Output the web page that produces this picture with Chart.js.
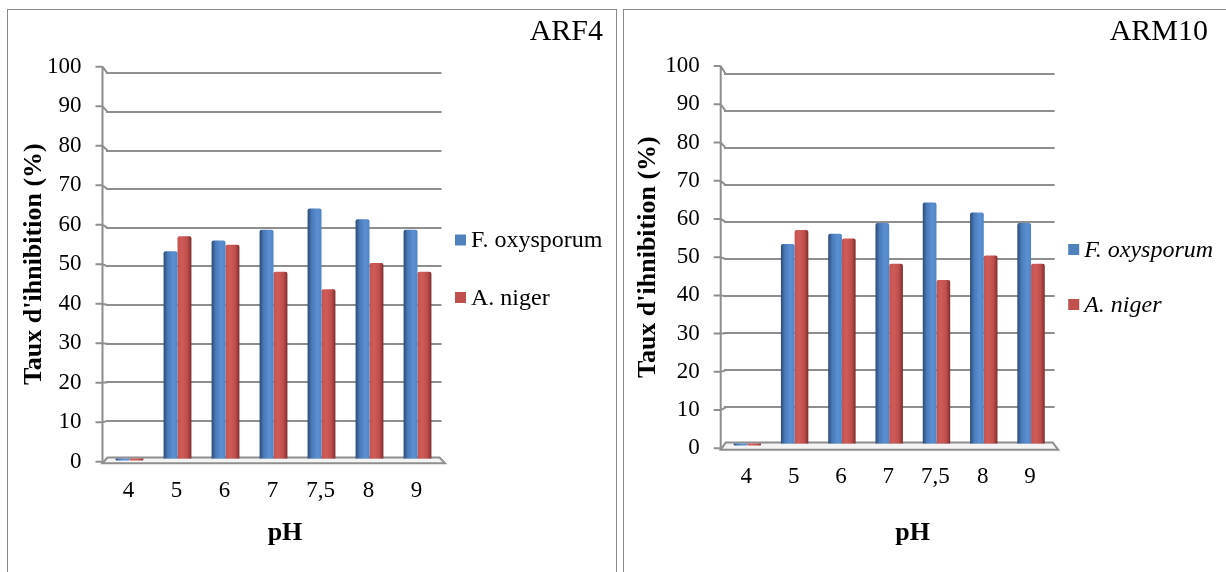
<!DOCTYPE html>
<html>
<head>
<meta charset="utf-8">
<script src="https://cdn.jsdelivr.net/npm/chart.js@4.4.1/dist/chart.umd.min.js"></script>
<style>
  html, body { margin: 0; padding: 0; background: #fff; }
  body { width: 1226px; height: 572px; overflow: hidden; position: relative; }
  .panel { position: absolute; top: 9px; height: 620px; border: 1px solid #8a8a8a; }
  canvas { position: absolute; top: 10px; }
</style>
</head>
<body>
<div class="panel" style="left:7px; width:608px;"></div>
<div class="panel" style="left:623px; width:640px;"></div>
<canvas id="chartARF4" width="608" height="562" style="left:8px"></canvas>
<canvas id="chartARM10" width="602" height="562" style="left:624px"></canvas>
<script>
const phLabels = ['4', '5', '6', '7', '7,5', '8', '9'];
const yTicks = [0, 10, 20, 30, 40, 50, 60, 70, 80, 90, 100];
const seriesNames = ['F. oxysporum', 'A. niger'];

// ARF4 (left panel)
const arf4Foxy = [0, 53.9, 56.7, 59.5, 65.0, 62.2, 59.5];
const arf4Aniger = [0, 57.8, 55.6, 48.6, 44.1, 50.9, 48.6];

// ARM10 (right panel)
const arm10Foxy = [0, 54.1, 56.9, 59.8, 65.3, 62.6, 59.8];
const arm10Aniger = [0, 57.9, 55.6, 48.8, 44.4, 51.0, 48.8];

const SERIF = "'Liberation Serif', 'Times New Roman', serif";
const GRID = '#8e8e8e';
const CAT_PCT = 0.58;
const flat = ['#4f81bd', '#c0504d'];
const shades = [
  ['#2b4a72', '#4a7bbb', '#5b90d3', '#4f84c4'],
  ['#c4514e', '#d05c59', '#bf4f4c', '#7e2e2c']
];

// cylinder-ish shading for each bar, computed from the x scale
function barFill(c) {
  const chart = c.chart;
  const xs = chart.scales.x;
  if (!xs || c.dataIndex === undefined) return flat[c.datasetIndex];
  const w = xs.width / phLabels.length * CAT_PCT / 2;
  const cx = xs.getPixelForValue(c.dataIndex);
  if (!isFinite(cx) || !isFinite(w)) return flat[c.datasetIndex];
  const left = c.datasetIndex === 0 ? cx - w : cx;
  const g = chart.ctx.createLinearGradient(left, 0, left + w, 0);
  const s = shades[c.datasetIndex];
  g.addColorStop(0, s[0]);
  g.addColorStop(0.3, s[1]);
  g.addColorStop(0.7, s[2]);
  g.addColorStop(1, s[3]);
  return g;
}

// min/max of the bar axis so that 0 and 100 land on the back-wall lines
function barRange(area, bars) {
  const span = 100 * (area[1] - area[0]) / (bars[0] - bars[1]);
  const min = -span * (area[1] - bars[0]) / (area[1] - area[0]);
  return { min: min, max: min + span };
}

// ── 3D-ish frame, title, legend, pH label ─────────────────
const frame3d = {
  id: 'frame3d',
  beforeDatasetsDraw(chart) {
    const ctx = chart.ctx;
    const a = chart.chartArea;
    const ys = chart.scales.y;
    const yb = chart.scales.yb;
    const axisX = a.left - 3;
    const floorTop = yb.getPixelForValue(0) - 2;
    const floorBot = ys.getPixelForValue(0) + 1.5;

    ctx.save();
    ctx.strokeStyle = GRID;
    ctx.lineWidth = 2;

    ctx.beginPath();
    ctx.moveTo(axisX, floorBot);
    ctx.lineTo(axisX + 5, floorTop);
    ctx.lineTo(a.right - 2, floorTop);
    ctx.lineTo(a.right + 3.5, floorBot);
    ctx.closePath();
    ctx.fillStyle = '#f4f4f4';
    ctx.fill();
    ctx.stroke();

    ctx.beginPath();
    ctx.moveTo(axisX, ys.getPixelForValue(100));
    ctx.lineTo(axisX, floorBot);
    yTicks.forEach(v => {
      const ty = ys.getPixelForValue(v);
      ctx.moveTo(axisX - 7, ty);
      ctx.lineTo(axisX, ty);
      if (v > 0) {
        ctx.moveTo(axisX, ty);
        ctx.lineTo(a.left + 2, yb.getPixelForValue(v));
      }
    });
    ctx.stroke();
    ctx.restore();
  },
  afterDraw(chart, args, opts) {
    const ctx = chart.ctx;
    const a = chart.chartArea;
    ctx.save();
    ctx.fillStyle = '#000';
    ctx.textBaseline = 'middle';

    ctx.font = `30px ${SERIF}`;
    ctx.textAlign = 'right';
    ctx.fillText(opts.title, opts.titleX, opts.titleY);

    ctx.font = `bold 26px ${SERIF}`;
    ctx.textAlign = 'center';
    ctx.fillText('pH', opts.phX, opts.phY);

    ctx.font = `${opts.italic ? 'italic ' : ''}24px ${SERIF}`;
    ctx.textAlign = 'left';
    chart.data.datasets.forEach((ds, i) => {
      const bx = a.right + 13.5;
      const cy = opts.legendY[i];
      ctx.fillStyle = flat[i];
      ctx.fillRect(bx, cy - 5.5, 11, 11);
      ctx.fillStyle = '#000';
      ctx.fillText(ds.label, bx + 16, cy + 1);
    });
    ctx.restore();
  }
};

function makeChart(id, p) {
  const range = barRange(p.area, p.bars);
  const tickFont = { family: SERIF, size: 23 };
  return new Chart(document.getElementById(id), {
    type: 'bar',
    data: {
      labels: phLabels,
      datasets: [
        { label: seriesNames[0], data: p.foxy, yAxisID: 'yb', backgroundColor: barFill },
        { label: seriesNames[1], data: p.aniger, yAxisID: 'yb', backgroundColor: barFill }
      ]
    },
    options: {
      responsive: false,
      animation: false,
      devicePixelRatio: 1,
      events: [],
      layout: { padding: p.padding },
      datasets: {
        bar: {
          categoryPercentage: CAT_PCT,
          barPercentage: 1,
          minBarLength: 2,
          borderRadius: 2,
          borderSkipped: 'start'
        }
      },
      plugins: {
        legend: { display: false },
        tooltip: { enabled: false },
        frame3d: p.decor
      },
      scales: {
        x: {
          grid: { display: false, drawTicks: false },
          border: { display: false },
          ticks: { font: tickFont, color: '#000', padding: p.xPad, labelOffset: -1 },
          afterFit: s => { s.height = 60; }
        },
        y: {
          position: 'left',
          min: 0,
          max: 100,
          afterBuildTicks: s => { s.ticks = yTicks.map(v => ({ value: v })); },
          grid: { display: false, drawTicks: false },
          border: { display: false },
          ticks: { font: tickFont, color: '#000', padding: 24 },
          title: {
            display: true,
            text: "Taux d'ihnibition (%)",
            color: '#000',
            font: { family: SERIF, size: 26, weight: 'bold' },
            padding: { top: p.titlePad, bottom: 0 }
          },
          afterFit: s => { s.width = 91; }
        },
        yb: {
          position: 'left',
          min: range.min,
          max: range.max,
          afterBuildTicks: s => { s.ticks = yTicks.map(v => ({ value: v })); },
          ticks: { display: false },
          grid: {
            drawTicks: false,
            lineWidth: 2,
            color: c => (c.tick && c.tick.value === 0) ? 'rgba(0,0,0,0)' : GRID
          },
          border: { display: false },
          afterFit: s => { s.width = 0; }
        }
      }
    },
    plugins: [frame3d]
  });
}

makeChart('chartARF4', {
  foxy: arf4Foxy,
  aniger: arf4Aniger,
  padding: { left: 6.5, right: 174.5, top: 56.7, bottom: 50.3 },
  area: [66.7, 461.7],
  bars: [459.5, 73.3],
  xPad: 15.5,
  titlePad: 3.9,
  decor: { title: 'ARF4', titleX: 595, titleY: 22, phX: 277, phY: 523, legendY: [230, 287.5], italic: false }
});

makeChart('chartARM10', {
  foxy: arm10Foxy,
  aniger: arm10Aniger,
  padding: { left: 8.7, right: 171.3, top: 56, bottom: 63.7 },
  area: [66, 448.3],
  bars: [444.5, 74],
  xPad: 14.5,
  titlePad: 0,
  decor: { title: 'ARM10', titleX: 584, titleY: 22, phX: 288.6, phY: 523, legendY: [239.5, 294.5], italic: true }
});
</script>
</body>
</html>
